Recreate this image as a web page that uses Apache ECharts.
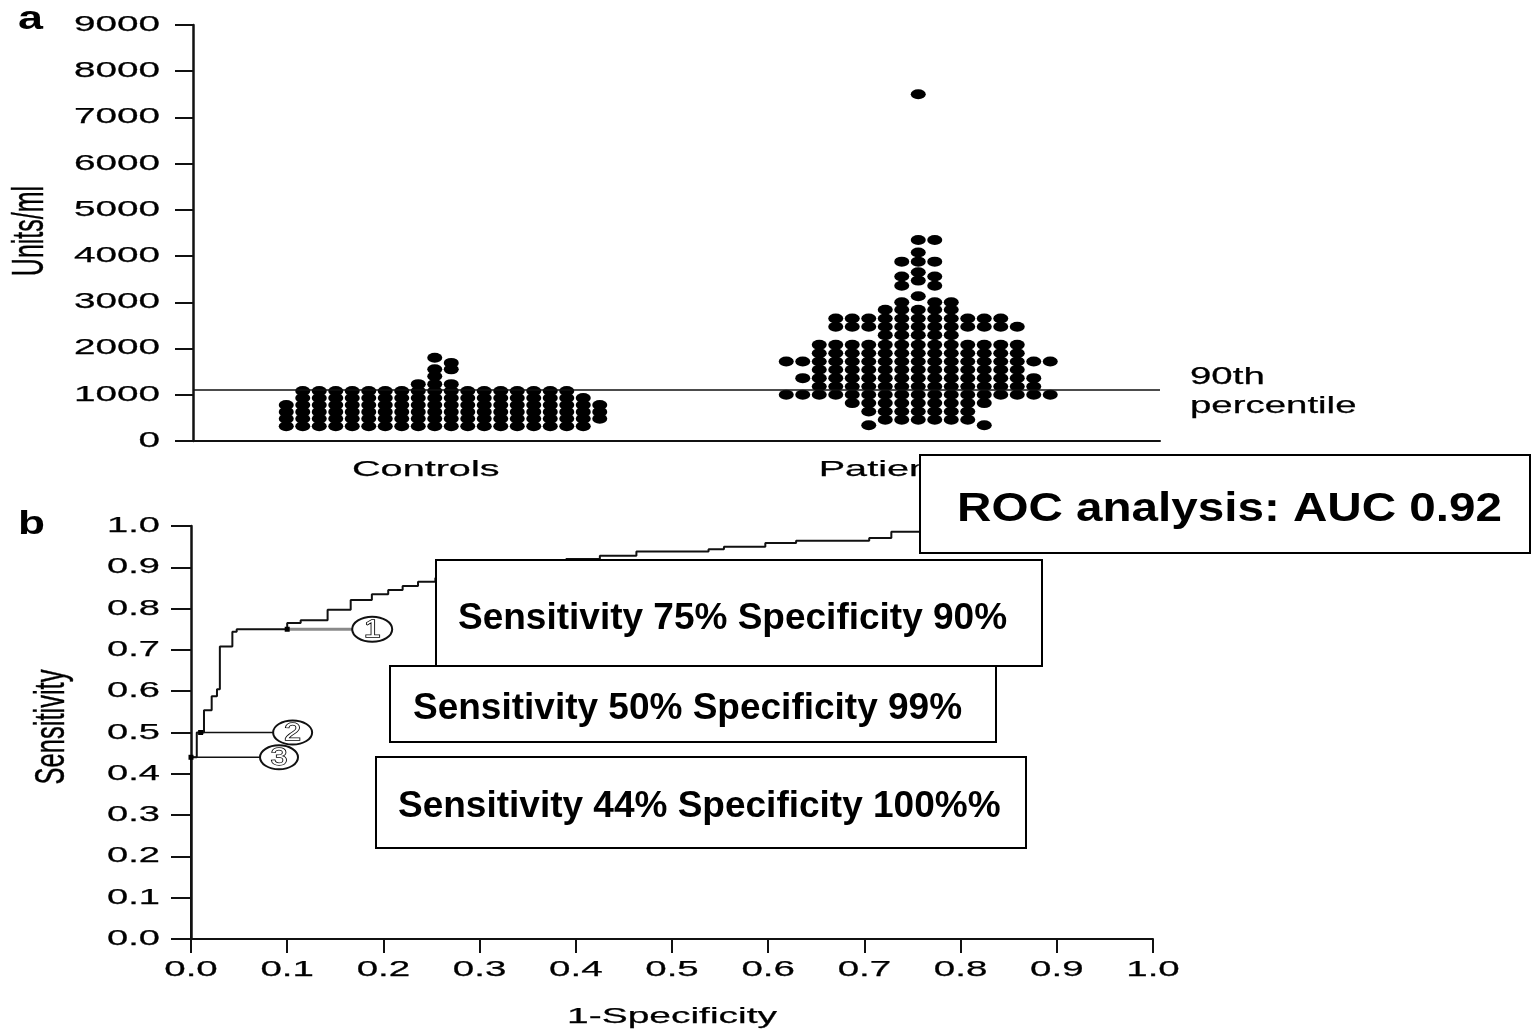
<!DOCTYPE html>
<html>
<head>
<meta charset="utf-8">
<title>Serum levels and ROC analysis</title>
<script src="https://cdn.jsdelivr.net/npm/echarts@6/dist/echarts.min.js"></script>
<style>
  html, body { margin: 0; padding: 0; background: #fff; }
  #chart { width: 1531px; height: 1032px; }
</style>
</head>
<body>
<div id="chart"></div>
<script>
// ---------- panel a: serum levels (Units/ml) ----------
const groupNames = ['Controls', 'Patients'];

const controlValues = [
  1800, 1690, 1550, 1550, 1400, 1230, 1230, 1230,
  1080, 1080, 1080, 1080, 1080, 1080, 1080, 1080, 1080, 1080,
  1080, 1080, 1080, 1080, 1080, 1080, 1080,
  930, 930, 930, 930, 930, 930, 930, 930, 930, 930,
  930, 930, 930, 930, 930, 930, 930, 930,
  780, 780, 780, 780, 780, 780, 780, 780, 780, 780,
  780, 780, 780, 780, 780, 780, 780, 780, 780, 780,
  630, 630, 630, 630, 630, 630, 630, 630, 630, 630,
  630, 630, 630, 630, 630, 630, 630, 630, 630, 630,
  480, 480, 480, 480, 480, 480, 480, 480, 480, 480,
  480, 480, 480, 480, 480, 480, 480, 480, 480, 480,
  320, 320, 320, 320, 320, 320, 320, 320, 320, 320,
  320, 320, 320, 320, 320, 320, 320, 320, 320
];

const patientValues = [
  7500,
  4350, 4350, 4080, 3880, 3880, 3880, 3650, 3560, 3560, 3470,
  3360, 3360, 3130, 3000, 3000, 3000,
  2840, 2840, 2840, 2840, 2840,
  2650, 2650, 2650, 2650, 2650, 2650, 2650, 2650, 2650, 2650, 2650,
  2470, 2470, 2470, 2470, 2470, 2470, 2470, 2470, 2470, 2470, 2470, 2470,
  2290, 2290, 2290, 2290, 2290,
  2080, 2080, 2080, 2080, 2080, 2080, 2080, 2080, 2080, 2080, 2080, 2080, 2080,
  1900, 1900, 1900, 1900, 1900, 1900, 1900, 1900, 1900, 1900, 1900, 1900, 1900,
  1720, 1720, 1720, 1720, 1720, 1720, 1720, 1720, 1720, 1720,
  1720, 1720, 1720, 1720, 1720, 1720, 1720,
  1540, 1540, 1540, 1540, 1540, 1540, 1540, 1540, 1540, 1540, 1540, 1540, 1540,
  1360, 1360, 1360, 1360, 1360, 1360, 1360, 1360, 1360, 1360,
  1360, 1360, 1360, 1360, 1360,
  1180, 1180, 1180, 1180, 1180, 1180, 1180, 1180, 1180, 1180,
  1180, 1180, 1180, 1180,
  1000, 1000, 1000, 1000, 1000, 1000, 1000, 1000, 1000, 1000,
  1000, 1000, 1000, 1000, 1000, 1000, 1000,
  820, 820, 820, 820, 820, 820, 820, 820, 820,
  640, 640, 640, 640, 640, 640, 640,
  460, 460, 460, 460, 460, 460,
  340, 340
];

const percentile90 = 1100;
const percentileText = '90th\npercentile';
const unitsTicks = [0, 1000, 2000, 3000, 4000, 5000, 6000, 7000, 8000, 9000];

// ---------- panel b: ROC curve ----------
// step corners: horizontal to rocFpr[i] at the previous sensitivity, then up to rocTpr[i]
const rocFpr = [0, 0, 0.006, 0.0135, 0.0215, 0.027, 0.030, 0.043, 0.0475, 0.10,
  0.114, 0.142, 0.166, 0.188, 0.205, 0.22, 0.236, 0.254, 0.30, 0.35,
  0.39, 0.425, 0.463, 0.538, 0.554, 0.597, 0.629, 0.705, 0.728, 0.80, 1.0];
const rocTpr = [0, 0.44, 0.50, 0.554, 0.588, 0.605, 0.708, 0.744, 0.75, 0.765,
  0.772, 0.797, 0.821, 0.835, 0.845, 0.855, 0.865, 0.874, 0.895, 0.91,
  0.92, 0.928, 0.938, 0.944, 0.95, 0.959, 0.964, 0.971, 0.986, 1.0, 1.0];
const rocTicks = [0, 0.1, 0.2, 0.3, 0.4, 0.5, 0.6, 0.7, 0.8, 0.9, 1.0];

const cutPointIds = ['1', '2', '3'];
const cutPointFpr = [0.10, 0.01, 0.0];
const cutPointTpr = [0.75, 0.50, 0.44];
const cutPointTexts = [
  'Sensitivity 75% Specificity 90%',
  'Sensitivity 50% Specificity 99%',
  'Sensitivity 44% Specificity 100%%'
];
const aucText = 'ROC analysis: AUC 0.92';

// ---------- layout ----------
const FONT = '"Liberation Sans", Arial, Helvetica, sans-serif';
const INK = '#111';
const gridA = { left: 193, top: 25, width: 967, height: 416 };
const gridB = { left: 191, top: 526, width: 962, height: 413 };
const dotW = 15, dotH = 10, colGap = 16.5, rowClear = 6.2;

const chart = echarts.init(document.getElementById('chart'));

function valueAxis(grid, min, max, interval, lineW, tick) {
  return {
    gridIndex: grid, type: 'value', min, max, interval,
    axisLine: { show: true, onZero: false, lineStyle: { color: INK, width: lineW } },
    axisTick: tick ? { show: true, length: tick, lineStyle: { color: INK, width: 2 } } : { show: false },
    axisLabel: { show: false },
    splitLine: { show: false }
  };
}

chart.setOption({
  animation: false,
  backgroundColor: '#fff',
  grid: [gridA, gridB],
  xAxis: [
    valueAxis(0, -0.5, 1.5, 1, 2, 0),
    valueAxis(1, 0, 1, 0.1, 2, 14)
  ],
  yAxis: [
    valueAxis(0, 0, 9000, 1000, 2.5, 18),
    valueAxis(1, 0, 1, 0.1, 2.5, 20)
  ],
  series: [
    { id: 'controls', type: 'scatter', xAxisIndex: 0, yAxisIndex: 0, data: [] },
    { id: 'patients', type: 'scatter', xAxisIndex: 0, yAxisIndex: 0, data: [] },
    { id: 'roc', type: 'line', xAxisIndex: 1, yAxisIndex: 1, data: [] },
    { id: 'cuts', type: 'scatter', xAxisIndex: 1, yAxisIndex: 1, data: [] }
  ]
});

// pixel scales of panel a, used to pack the dots side by side
const pxPerX = chart.convertToPixel({ xAxisIndex: 0 }, 1) - chart.convertToPixel({ xAxisIndex: 0 }, 0);
const pxPerY = (chart.convertToPixel({ yAxisIndex: 0 }, 0) - chart.convertToPixel({ yAxisIndex: 0 }, 1000)) / 1000;

// column-based dot plot: each dot takes the column nearest the centre
// that has no other dot too close above or below it
function swarm(values, center) {
  const cols = new Map();
  const out = [];
  values.slice().sort((a, b) => b - a).forEach(v => {
    const y = v * pxPerY;
    for (let k = 0; ; k++) {
      const col = k === 0 ? 0 : (k % 2 ? (k + 1) / 2 : -k / 2);
      const used = cols.get(col) || [];
      if (used.every(u => Math.abs(u - y) >= rowClear)) {
        used.push(y);
        cols.set(col, used);
        out.push([center + col * colGap / pxPerX, v]);
        break;
      }
    }
  });
  return out;
}

const rocPath = [];
rocFpr.forEach((x, i) => {
  if (i > 0) rocPath.push([x, rocTpr[i - 1]]);
  rocPath.push([x, rocTpr[i]]);
});
const cutData = cutPointFpr.map((x, i) => [x, cutPointTpr[i]]);

// ---------- text and annotations ----------
function txt(text, x, y, o) {
  const style = {
    text,
    fill: o.fill || '#000',
    font: (o.weight || 'normal') + ' ' + o.size + 'px ' + FONT,
    textAlign: o.align || 'left',
    textVerticalAlign: o.valign || 'middle'
  };
  if (o.stroke) { style.stroke = o.stroke; style.lineWidth = o.lineWidth || 1; }
  if (o.lineHeight) style.lineHeight = o.lineHeight;
  return {
    type: 'text', x, y, z: o.z || 20,
    rotation: o.rotation || 0,
    scaleX: o.sx || 1, scaleY: o.sy || 1,
    style
  };
}
// the figure lettering is set wide and slightly heavy
const wide = (o) => Object.assign({ stroke: '#000', lineWidth: 0.25 }, o);

const pA = (x, y) => chart.convertToPixel({ gridIndex: 0 }, [x, y]);
const pB = (x, y) => chart.convertToPixel({ gridIndex: 1 }, [x, y]);

const g = [];

// panel letters
g.push(txt('a', 18, 20, { size: 34, weight: 'bold', sx: 1.32 }));
g.push(txt('b', 18, 525, { size: 34, weight: 'bold', sx: 1.3 }));

// panel a tick labels, group labels, axis title
unitsTicks.forEach(v => {
  g.push(txt(String(v), 160, pA(0, v)[1], wide({ size: 21.5, sx: 1.8, align: 'right' })));
});
const groupShift = [-9, -28];
groupNames.forEach((name, i) => {
  g.push(txt(name, pA(i, 0)[0] + groupShift[i], 470, wide({ size: 22, sx: 1.8, align: 'center' })));
});
g.push(txt('Units/ml', 31, 231, wide({ size: 25, sy: 1.75, rotation: Math.PI / 2, align: 'center' })));
g.push(txt(percentileText, gridA.left + gridA.width + 30, pA(0, percentile90)[1] + 2,
  wide({ size: 24, sx: 1.6, lineHeight: 29 })));

// panel b tick labels and axis titles
rocTicks.forEach(v => {
  g.push(txt(v.toFixed(1), 160, pB(0, v)[1], wide({ size: 22, sx: 1.73, align: 'right' })));
  g.push(txt(v.toFixed(1), pB(v, 0)[0], 970, wide({ size: 22, sx: 1.75, align: 'center' })));
});
g.push(txt('1-Specificity', gridB.left + gridB.width / 2, 1017, wide({ size: 22, sx: 1.77, align: 'center' })));
g.push(txt('Sensitivity', 52, 727, wide({ size: 25.5, sy: 1.7, rotation: Math.PI / 2, align: 'center' })));

// numbered cut-off markers with leader lines
const calloutDx = [85, 92, 88];
const calloutR = [[20, 12.5], [19.5, 12], [19, 12]];
const leaderStyle = [{ stroke: '#8a8a8a', lineWidth: 3 }, { stroke: INK, lineWidth: 1.6 }, { stroke: INK, lineWidth: 1.6 }];
cutPointIds.forEach((id, i) => {
  const [px, py] = pB(cutPointFpr[i], cutPointTpr[i]);
  const cx = px + calloutDx[i];
  const [rx, ry] = calloutR[i];
  g.push({ type: 'line', z: 12, shape: { x1: px, y1: py, x2: cx - rx, y2: py }, style: leaderStyle[i] });
  g.push({ type: 'ellipse', z: 13, shape: { cx, cy: py, rx, ry }, style: { fill: '#fff', stroke: INK, lineWidth: 2 } });
  g.push(txt(id, cx, py + 1, { size: 23, sx: 1.3, align: 'center', fill: '#fff', stroke: '#000', lineWidth: 1.4, z: 14 }));
});

// summary boxes
function box(x, y, w, h, text, tx, ty, size, sx) {
  g.push({ type: 'rect', z: 40, shape: { x, y, width: w, height: h }, style: { fill: '#fff', stroke: '#000', lineWidth: 2 } });
  g.push(txt(text, tx, ty, { size, sx: sx || 1, weight: 'bold', z: 41 }));
}
box(920, 455, 610, 98, aucText, 957, 510, 40, 1.19);
box(436, 560, 606, 106, cutPointTexts[0], 458, 619, 37);
box(390, 666, 606, 76, cutPointTexts[1], 413, 709, 37);
box(376, 757, 650, 91, cutPointTexts[2], 398, 807, 37);

const dotStyle = { color: '#000', opacity: 1 };
chart.setOption({
  series: [
    {
      id: 'controls', data: swarm(controlValues, 0),
      symbol: 'circle', symbolSize: [dotW, dotH],
      itemStyle: dotStyle,
      markLine: {
        silent: true, symbol: ['none', 'none'],
        label: { show: false },
        lineStyle: { color: INK, width: 1.6, type: 'solid' },
        data: [{ yAxis: percentile90 }]
      }
    },
    {
      id: 'patients', data: swarm(patientValues, 1),
      symbol: 'circle', symbolSize: [dotW, dotH],
      itemStyle: dotStyle
    },
    {
      id: 'roc', data: rocPath, showSymbol: false, symbol: 'none',
      lineStyle: { color: INK, width: 2 }, z: 3
    },
    {
      id: 'cuts', data: cutData, symbol: 'rect', symbolSize: 5,
      itemStyle: { color: '#000', opacity: 1 }, z: 15
    }
  ],
  graphic: { elements: g }
});
</script>
</body>
</html>
